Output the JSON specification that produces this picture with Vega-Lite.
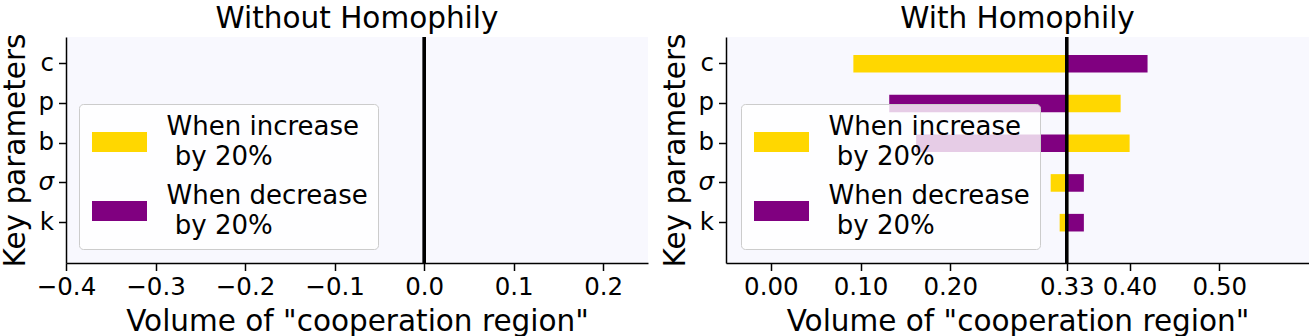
{
  "$schema": "https://vega.github.io/schema/vega-lite/v6.json",
  "padding": {"left": 0, "top": 3, "right": 0, "bottom": 0},
  "spacing": 12,
  "config": {
    "font": "DejaVu Sans",
    "view": {"fill": "#F8F8FE", "stroke": null},
    "axis": {
      "domainColor": "black", "tickColor": "black", "labelColor": "black", "titleColor": "black",
      "labelFont": "DejaVu Sans", "titleFont": "DejaVu Sans",
      "labelFontSize": 24.5, "titleFontSize": 29.5, "titleFontWeight": "normal",
      "grid": false, "domainWidth": 1.5, "tickWidth": 1.5, "tickSize": 7.5
    },
    "title": {"font": "DejaVu Sans", "fontSize": 29.5, "fontWeight": "normal", "color": "black", "anchor": "middle", "offset": -1},
    "legend": {
      "orient": "none", "labelFont": "DejaVu Sans", "labelFontSize": 26, "labelColor": "black",
      "labelLimit": 400, "labelOffset": 51.5, "symbolType": "M-1,0.5H4.5V2.5H-1Z", "symbolSize": 400,
      "symbolStrokeWidth": 0, "symbolOpacity": 1, "fillColor": "rgba(255,255,255,0.8)",
      "strokeColor": "#cccccc", "cornerRadius": 4, "padding": 10, "rowPadding": 13
    },
    "style": {"guide-label": {"lineHeight": 30}}
  },
  "datasets": {
    "without": [
      {"param": "c", "change": "increase", "value": 0},
      {"param": "c", "change": "decrease", "value": 0},
      {"param": "p", "change": "increase", "value": 0},
      {"param": "p", "change": "decrease", "value": 0},
      {"param": "b", "change": "increase", "value": 0},
      {"param": "b", "change": "decrease", "value": 0},
      {"param": "σ", "change": "increase", "value": 0},
      {"param": "σ", "change": "decrease", "value": 0},
      {"param": "k", "change": "increase", "value": 0},
      {"param": "k", "change": "decrease", "value": 0}
    ],
    "with": [
      {"param": "c", "change": "increase", "value": 0.092},
      {"param": "c", "change": "decrease", "value": 0.42},
      {"param": "p", "change": "increase", "value": 0.39},
      {"param": "p", "change": "decrease", "value": 0.132},
      {"param": "b", "change": "increase", "value": 0.40},
      {"param": "b", "change": "decrease", "value": 0.162},
      {"param": "σ", "change": "increase", "value": 0.312},
      {"param": "σ", "change": "decrease", "value": 0.349},
      {"param": "k", "change": "increase", "value": 0.322},
      {"param": "k", "change": "decrease", "value": 0.349}
    ]
  },
  "hconcat": [
    {
      "width": 582, "height": 226,
      "title": "Without Homophily",
      "data": {"name": "without"},
      "layer": [
        {
          "mark": {"type": "bar", "height": {"band": 0.443}},
          "encoding": {
            "y": {"field": "param", "type": "nominal",
              "scale": {"domain": ["c", "p", "b", "σ", "k"], "paddingInner": 0, "paddingOuter": 0.343, "align": 0.25, "round": false},
              "axis": {"title": "Key parameters", "titlePadding": 7, "labelPadding": 5,
                "labelFontStyle": {"condition": {"test": "datum.value == 'σ'", "value": "italic"}, "value": "normal"}}},
            "x": {"field": "value", "type": "quantitative",
              "scale": {"domain": [-0.4, 0.25], "nice": false, "zero": false},
              "axis": {"title": "Volume of \"cooperation region\"", "values": [-0.4, -0.3, -0.2, -0.1, 0, 0.1, 0.2], "format": ".1f",
                "labelFlush": false, "labelOverlap": false, "labelPadding": 5, "titlePadding": 8}},
            "x2": {"datum": 0},
            "color": {"field": "change", "type": "nominal",
              "scale": {"domain": ["increase", "decrease"], "range": ["#FFD700", "#800080"]},
              "legend": {"title": null, "legendX": 13, "legendY": 67,
                "labelExpr": "datum.label == 'increase' ? ['When increase', '\u200b\u00a0by 20%'] : ['When decrease', '\u200b\u00a0by 20%']"}}
          }
        },
        {
          "mark": {"type": "rule", "color": "black", "strokeWidth": 2.5},
          "encoding": {"x": {"datum": 0}}
        }
      ]
    },
    {
      "width": 583, "height": 226,
      "title": "With Homophily",
      "data": {"name": "with"},
      "layer": [
        {
          "mark": {"type": "bar", "height": {"band": 0.443}},
          "encoding": {
            "y": {"field": "param", "type": "nominal",
              "scale": {"domain": ["c", "p", "b", "σ", "k"], "paddingInner": 0, "paddingOuter": 0.343, "align": 0.25, "round": false},
              "axis": {"title": "Key parameters", "titlePadding": 7, "labelPadding": 5,
                "labelFontStyle": {"condition": {"test": "datum.value == 'σ'", "value": "italic"}, "value": "normal"}}},
            "x": {"field": "value", "type": "quantitative",
              "scale": {"domain": [-0.05, 0.6], "nice": false, "zero": false},
              "axis": {"title": "Volume of \"cooperation region\"", "values": [0, 0.1, 0.2, 0.33, 0.4, 0.5], "format": ".2f",
                "labelFlush": false, "labelOverlap": false, "labelPadding": 5, "titlePadding": 8}},
            "x2": {"datum": 0.33},
            "color": {"field": "change", "type": "nominal",
              "scale": {"domain": ["increase", "decrease"], "range": ["#FFD700", "#800080"]},
              "legend": {"title": null, "legendX": 15, "legendY": 67,
                "labelExpr": "datum.label == 'increase' ? ['When increase', '\u200b\u00a0by 20%'] : ['When decrease', '\u200b\u00a0by 20%']"}}
          }
        },
        {
          "mark": {"type": "rule", "color": "black", "strokeWidth": 2.5},
          "encoding": {"x": {"datum": 0.33}}
        }
      ]
    }
  ],
  "resolve": {"scale": {"color": "independent", "y": "independent", "x": "independent"}, "legend": {"color": "independent"}}
}
